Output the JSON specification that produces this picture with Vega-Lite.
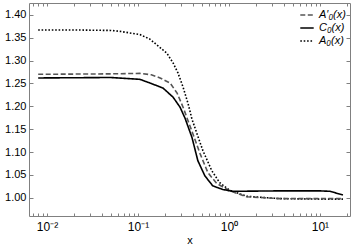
{
  "$schema": "https://vega.github.io/schema/vega-lite/v6.json",
  "width": 321,
  "height": 213,
  "autosize": {"type": "none"},
  "padding": {"left": 29, "top": 3, "right": 4, "bottom": 35},
  "background": "white",
  "config": {
    "view": {"stroke": "#808080", "strokeWidth": 1},
    "font": "Liberation Sans",
    "axis": {"domain": false, "grid": false, "tickColor": "#808080", "labelColor": "#000", "labelFontSize": 11, "titleFontSize": 11, "titleFontWeight": "normal", "labelFont": "Liberation Sans", "titleFont": "Liberation Sans"}
  },
  "data": {"values": [
    {"s": "A₀(x)", "x": 0.008, "y": 1.367},
    {"s": "A₀(x)", "x": 0.02, "y": 1.367},
    {"s": "A₀(x)", "x": 0.05, "y": 1.366},
    {"s": "A₀(x)", "x": 0.0634, "y": 1.364},
    {"s": "A₀(x)", "x": 0.105, "y": 1.357},
    {"s": "A₀(x)", "x": 0.135, "y": 1.347},
    {"s": "A₀(x)", "x": 0.162, "y": 1.334},
    {"s": "A₀(x)", "x": 0.208, "y": 1.316},
    {"s": "A₀(x)", "x": 0.243, "y": 1.295},
    {"s": "A₀(x)", "x": 0.275, "y": 1.273},
    {"s": "A₀(x)", "x": 0.313, "y": 1.242},
    {"s": "A₀(x)", "x": 0.354, "y": 1.207},
    {"s": "A₀(x)", "x": 0.392, "y": 1.172},
    {"s": "A₀(x)", "x": 0.445, "y": 1.140},
    {"s": "A₀(x)", "x": 0.517, "y": 1.103},
    {"s": "A₀(x)", "x": 0.648, "y": 1.059},
    {"s": "A₀(x)", "x": 0.79, "y": 1.033},
    {"s": "A₀(x)", "x": 1.02, "y": 1.016},
    {"s": "A₀(x)", "x": 1.58, "y": 1.003},
    {"s": "A₀(x)", "x": 3.63, "y": 0.998},
    {"s": "A₀(x)", "x": 10, "y": 0.997},
    {"s": "A₀(x)", "x": 17.9, "y": 0.997},
    {"s": "A′₀(x)", "x": 0.008, "y": 1.270},
    {"s": "A′₀(x)", "x": 0.05, "y": 1.271},
    {"s": "A′₀(x)", "x": 0.105, "y": 1.272},
    {"s": "A′₀(x)", "x": 0.14, "y": 1.269},
    {"s": "A′₀(x)", "x": 0.175, "y": 1.262},
    {"s": "A′₀(x)", "x": 0.225, "y": 1.251},
    {"s": "A′₀(x)", "x": 0.269, "y": 1.229},
    {"s": "A′₀(x)", "x": 0.313, "y": 1.198},
    {"s": "A′₀(x)", "x": 0.354, "y": 1.169},
    {"s": "A′₀(x)", "x": 0.401, "y": 1.140},
    {"s": "A′₀(x)", "x": 0.48, "y": 1.097},
    {"s": "A′₀(x)", "x": 0.586, "y": 1.055},
    {"s": "A′₀(x)", "x": 0.735, "y": 1.031},
    {"s": "A′₀(x)", "x": 1.02, "y": 1.015},
    {"s": "A′₀(x)", "x": 1.58, "y": 1.002},
    {"s": "A′₀(x)", "x": 3.63, "y": 0.998},
    {"s": "A′₀(x)", "x": 17.9, "y": 0.998},
    {"s": "C₀(x)", "x": 0.008, "y": 1.262},
    {"s": "C₀(x)", "x": 0.05, "y": 1.263},
    {"s": "C₀(x)", "x": 0.105, "y": 1.259},
    {"s": "C₀(x)", "x": 0.135, "y": 1.251},
    {"s": "C₀(x)", "x": 0.188, "y": 1.240},
    {"s": "C₀(x)", "x": 0.243, "y": 1.220},
    {"s": "C₀(x)", "x": 0.29, "y": 1.198},
    {"s": "C₀(x)", "x": 0.329, "y": 1.174},
    {"s": "C₀(x)", "x": 0.392, "y": 1.132},
    {"s": "C₀(x)", "x": 0.455, "y": 1.081},
    {"s": "C₀(x)", "x": 0.543, "y": 1.048},
    {"s": "C₀(x)", "x": 0.663, "y": 1.026},
    {"s": "C₀(x)", "x": 0.857, "y": 1.018},
    {"s": "C₀(x)", "x": 1.1, "y": 1.014},
    {"s": "C₀(x)", "x": 3.63, "y": 1.015},
    {"s": "C₀(x)", "x": 10, "y": 1.015},
    {"s": "C₀(x)", "x": 12.9, "y": 1.014},
    {"s": "C₀(x)", "x": 17.9, "y": 1.006}
  ]},
  "resolve": {"axis": {"x": "independent", "y": "independent"}},
  "layer": [
    {
      "mark": {"type": "line", "strokeWidth": 1.6, "clip": true},
      "encoding": {
        "x": {"field": "x", "type": "quantitative", "scale": {"type": "log", "domain": [0.00634, 21.4], "nice": false},
          "axis": {"title": "x", "orient": "bottom", "values": [0.007,0.008,0.009,0.01,0.02,0.03,0.04,0.05,0.06,0.07,0.08,0.09,0.1,0.2,0.3,0.4,0.5,0.6,0.7,0.8,0.9,1,2,3,4,5,6,7,8,9,10,20],
            "labelExpr": "datum.value == 0.01 ? '10⁻²' : datum.value == 0.1 ? '10⁻¹' : datum.value == 1 ? '10⁰' : datum.value == 10 ? '10¹' : ''",
            "tickSize": -3, "labelPadding": 8, "titlePadding": 2, "labelFlush": false, "labelFontSize": 12}},
        "y": {"field": "y", "type": "quantitative", "scale": {"domain": [0.96, 1.426], "nice": false, "zero": false},
          "axis": {"title": null, "orient": "left", "values": [1.0,1.05,1.1,1.15,1.2,1.25,1.3,1.35,1.4], "format": ".2f", "tickSize": -4, "labelPadding": 7}},
        "strokeDash": {"field": "s", "type": "nominal", "scale": {"domain": ["A′₀(x)", "C₀(x)", "A₀(x)"], "range": [[5, 2.5], [1, 0], [1.6, 1.8]]}, "legend": {"title": null, "orient": "top-right", "offset": 4, "symbolType": "stroke", "symbolSize": 180, "symbolStrokeWidth": 1.6, "labelFontSize": 11, "labelFontStyle": "italic", "rowPadding": 0, "labelOffset": 4, "symbolOffset": 0}},
        "color": {"field": "s", "type": "nominal", "scale": {"domain": ["A′₀(x)", "C₀(x)", "A₀(x)"], "range": ["#555555", "#000000", "#000000"]}, "legend": {"title": null, "orient": "top-right"}}
      }
    },
    {
      "mark": {"type": "point", "opacity": 0},
      "encoding": {
        "x": {"field": "x", "type": "quantitative", "scale": {"type": "log", "domain": [0.00634, 21.4], "nice": false},
          "axis": {"title": null, "orient": "top", "labels": false, "values": [0.007,0.008,0.009,0.01,0.02,0.03,0.04,0.05,0.06,0.07,0.08,0.09,0.1,0.2,0.3,0.4,0.5,0.6,0.7,0.8,0.9,1,2,3,4,5,6,7,8,9,10,20], "tickSize": -3}},
        "y": {"field": "y", "type": "quantitative", "scale": {"domain": [0.96, 1.426], "nice": false, "zero": false},
          "axis": {"title": null, "orient": "right", "labels": false, "values": [1.0,1.05,1.1,1.15,1.2,1.25,1.3,1.35,1.4], "tickSize": -4}}
      }
    }
  ]
}
